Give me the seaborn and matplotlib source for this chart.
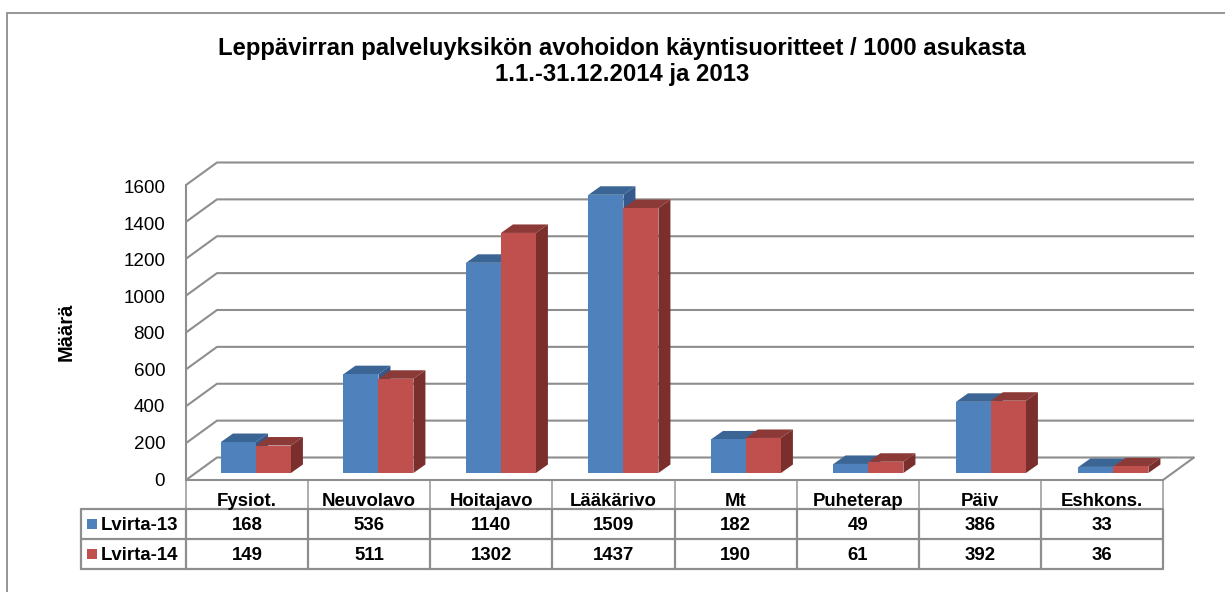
import numpy as np
import pandas as pd
import seaborn as sns
import matplotlib.pyplot as plt
from matplotlib.patches import Polygon, Rectangle

categories = ['Fysiot.', 'Neuvolavo', 'Hoitajavo', 'Lääkärivo', 'Mt', 'Puheterap', 'Päiv', 'Eshkons.']
series_names = ['Lvirta-13', 'Lvirta-14']
lvirta_13 = [168, 536, 1140, 1509, 182, 49, 386, 33]
lvirta_14 = [149, 511, 1302, 1437, 190, 61, 392, 36]
y_ticks = [0, 200, 400, 600, 800, 1000, 1200, 1400, 1600]
title_lines = ['Leppävirran palveluyksikön avohoidon käyntisuoritteet / 1000 asukasta',
               '1.1.-31.12.2014 ja 2013']
y_title = 'Määrä'

W, H = 1225, 592
GRID = '#8e8e8e'
front = ['#4f81bd', '#c0504d']
top = ['#3a6595', '#8c3a38']
side = ['#34598a', '#7a2f2d']

sns.set_theme(style='white')
plt.rcParams['font.family'] = ['Liberation Sans', 'DejaVu Sans']
plt.rcParams['text.color'] = 'black'

fig = plt.figure(figsize=(W / 100, H / 100), dpi=100, facecolor='white')


def px_axes(x0, y_top, x1, y_bottom):
    return fig.add_axes([x0 / W, 1 - y_bottom / H, (x1 - x0) / W, (y_bottom - y_top) / H])


# whole-figure layer in pixels, for frame and table lines
page = px_axes(0, 0, W, H)
page.set_xlim(0, W)
page.set_ylim(H, 0)
page.axis('off')
page.plot([7, 7, W], [H, 12.5, 12.5], color=GRID, lw=1.3, solid_joinstyle='miter')

# back wall + floor: front edge of the 3d box
wall = px_axes(186, 185, 1163, 480)
wall.set_xlim(0, 8)
wall.set_ylim(0, 1600)
wall.patch.set_alpha(0)
sns.despine(ax=wall, left=False, right=True, top=True, bottom=False)
for s in ['left', 'bottom']:
    wall.spines[s].set_color(GRID)
    wall.spines[s].set_linewidth(1.5)
dx = 31 / (977 / 8)
dy = 22.5 * 1600 / 295
for v in y_ticks:
    wall.plot([0, dx, 8 + dx], [v, v + dy, v + dy], color=GRID, lw=1.5, clip_on=False,
              solid_capstyle='butt')
wall.plot([8, 8 + dx], [0, dy], color=GRID, lw=1.5, clip_on=False)
wall.set_xticks([])
wall.set_yticks([])

# tick labels sit on a slightly tighter scale than the wall in the original
labels = px_axes(186, 187, 1163, 479)
labels.patch.set_alpha(0)
labels.set_ylim(0, 1600)
labels.set_xticks([])
labels.set_yticks(y_ticks)
labels.tick_params(axis='y', labelsize=13.6, colors='black', length=0, pad=15)
sns.despine(ax=labels, left=True, right=True, top=True, bottom=True)

# the bars themselves
df = pd.DataFrame({'category': categories * 2,
                   'series': [series_names[0]] * 8 + [series_names[1]] * 8,
                   'value': lvirta_13 + lvirta_14})
ax = px_axes(194.7, 178, 1174.7, 473)
ax.patch.set_alpha(0)
sns.barplot(data=df, x='category', y='value', hue='series', order=categories,
            hue_order=series_names, palette=front, width=0.571, gap=0, saturation=1,
            legend=False, ax=ax, linewidth=0)
ax.set_xlim(-0.5, 7.5)
ax.set_ylim(0, 1600)
ax.axis('off')

# 3d top and side faces, taken from each bar's own rectangle
bx = 12 / (980 / 8)
by = 8.5 * 1600 / 295
for i, cont in enumerate(ax.containers):
    for bar in cont:
        x0, x1 = bar.get_x(), bar.get_x() + bar.get_width()
        h = bar.get_height()
        ax.add_patch(Polygon([(x0, h), (x1, h), (x1 + bx, h + by), (x0 + bx, h + by)],
                             closed=True, fc=top[i], ec='none', clip_on=False, zorder=1.5 + i))
        ax.add_patch(Polygon([(x1, 0), (x1 + bx, by), (x1 + bx, h + by), (x1, h)],
                             closed=True, fc=side[i], ec='none', clip_on=False, zorder=1.5 + i))
        bar.set_zorder(2 + i)

# y axis title and chart title
page.text(66, 332, y_title, rotation=90, ha='center', va='center', fontsize=14.5, fontweight='bold')
page.text(622, 48, title_lines[0], ha='center', va='center', fontsize=17.2, fontweight='bold')
page.text(622, 74, title_lines[1], ha='center', va='center', fontsize=17.2, fontweight='bold')

# data table under the chart
col_x = [186 + i * 977 / 8 for i in range(9)]
row_y = [480, 509, 539, 569]
for x in col_x:
    page.plot([x, x], [row_y[0], row_y[1]], color='#a6a6a6', lw=1.3)
    page.plot([x, x], [row_y[1], row_y[3]], color=GRID, lw=1.6)
page.plot([81, 81], [row_y[1], row_y[3]], color=GRID, lw=1.6)
for y in row_y[1:]:
    page.plot([81, 1163], [y, y], color=GRID, lw=1.6)

for i, cat in enumerate(categories):
    xc = (col_x[i] + col_x[i + 1]) / 2
    page.text(xc, 501.5, cat, ha='center', va='center', fontsize=13.4, fontweight='bold')
    page.text(xc, 526, str(lvirta_13[i]), ha='center', va='center', fontsize=13.4, fontweight='bold')
    page.text(xc, 555, str(lvirta_14[i]), ha='center', va='center', fontsize=13.4, fontweight='bold')

for j, name in enumerate(series_names):
    yc = 524 + 30 * j
    page.add_patch(Rectangle((87, yc - 5), 10, 10, fc=front[j], ec='none'))
    page.text(101, yc + 1.5, name, ha='left', va='center', fontsize=13.4, fontweight='bold')

fig.savefig('out.png', dpi=100)
